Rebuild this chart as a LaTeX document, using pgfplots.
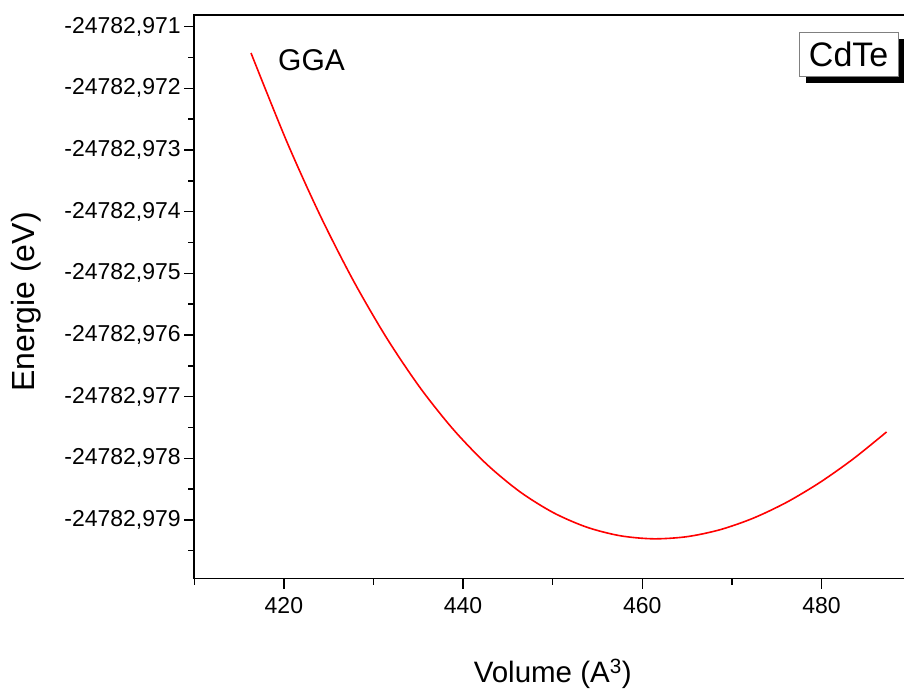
\documentclass[border=0pt]{standalone}
\usepackage{pgfplots}
\pgfplotsset{compat=1.18}
\usepackage{pgfplotstable}
\usepackage{fontspec}
\setmainfont{Liberation Sans}

% Energy given as E + 24782 (eV)
\pgfplotstableread{
V E
416.33 -0.971427
420.31 -0.972859
424.03 -0.974056
427.75 -0.975118
431.47 -0.976049
435.19 -0.976853
438.91 -0.977533
442.63 -0.978096
446.35 -0.978544
450.07 -0.978882
453.79 -0.979117
457.51 -0.979256
461.23 -0.979306
464.96 -0.979272
468.67 -0.979159
472.39 -0.978971
476.12 -0.978713
479.83 -0.978391
483.55 -0.978009
487.26 -0.977573
}\datatable

\begin{document}
\begin{tikzpicture}
\begin{axis}[
  at={(0pt,0pt)}, anchor=south west,
  scale only axis,
  width=716.8pt, height=563.5pt,
  xmin=410, xmax=490,
  ymin=-0.97995, ymax=-0.97081,
  axis line style={line width=1.8pt},
  tick style={line width=1.4pt, black},
  tick align=outside,
  tick pos=left,
  major tick length=10pt,
  minor tick length=6pt,
  xtick={420,440,460,480},
  xticklabels={420,440,460,480},
  minor xtick={410,430,450,470,490},
  ytick={-0.979,-0.978,-0.977,-0.976,-0.975,-0.974,-0.973,-0.972,-0.971},
  yticklabels={-24782{,}979,-24782{,}978,-24782{,}977,-24782{,}976,-24782{,}975,-24782{,}974,-24782{,}973,-24782{,}972,-24782{,}971},
  minor ytick={-0.9795,-0.9785,-0.9775,-0.9765,-0.9755,-0.9745,-0.9735,-0.9725,-0.9715},
  ticklabel style={font=\fontsize{23}{23}\selectfont},
  xticklabel style={yshift=-5pt},
  xlabel={Volume (A\textsuperscript{3})},
  ylabel={Energie (eV)},
  xlabel style={font=\fontsize{29.5}{30}\selectfont, at={(axis description cs:0.5,-0.1846)}, anchor=base},
  ylabel style={font=\fontsize{32}{32}\selectfont, at={(axis description cs:-0.2348,0.4907)}, anchor=center},
  clip=false,
]
\addplot[red, line width=1.6pt, smooth] table[x=V, y=E] {\datatable};
\end{axis}
\node[anchor=base west, font=\fontsize{30}{30}\selectfont, inner sep=0pt] at (83.7pt,507.5pt) {GGA};
\fill[black] (611.7pt,495.8pt) rectangle (711pt,539.5pt);
\node[draw=gray, line width=0.8pt, fill=white, minimum width=99.3pt, minimum height=43.7pt, inner sep=0pt, font=\fontsize{34}{34}\selectfont] at (654.35pt,524.35pt) {CdTe};
\pgfresetboundingbox
\path[use as bounding box] (-194.3pt,-112.5pt) rectangle (709.7pt,578.5pt);
\end{tikzpicture}
\end{document}
